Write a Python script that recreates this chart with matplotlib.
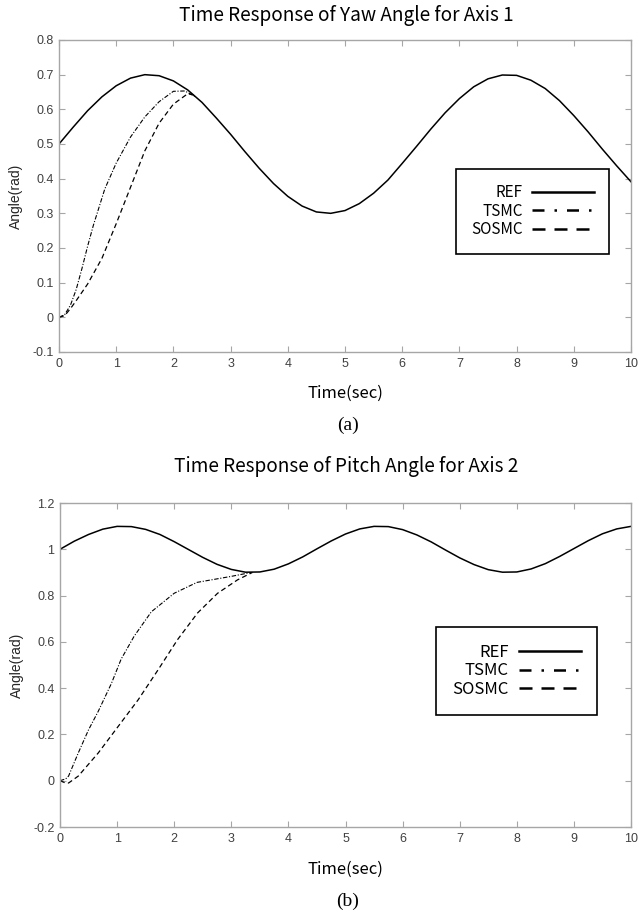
import numpy as np
import matplotlib
matplotlib.use("Agg")
import matplotlib.pyplot as plt
from matplotlib.lines import Line2D

# ---- datos ----
t_ref = np.arange(0, 10.01, 0.25)

yaw_ref = [0.500, 0.549, 0.596, 0.636, 0.668, 0.690, 0.700, 0.697, 0.682, 0.656,
           0.620, 0.575, 0.528, 0.478, 0.430, 0.386, 0.349, 0.321, 0.304, 0.300,
           0.308, 0.328, 0.358, 0.396, 0.444, 0.493, 0.543, 0.590, 0.631, 0.665,
           0.688, 0.699, 0.698, 0.684, 0.660, 0.625, 0.582, 0.535, 0.485, 0.437,
           0.391]

t_yaw_tsmc = [0, 0.1, 0.2, 0.3, 0.4, 0.5, 0.6, 0.8, 1.0, 1.25, 1.5, 1.75, 2.0, 2.2, 2.4]
yaw_tsmc = [0, 0.008, 0.035, 0.08, 0.14, 0.205, 0.265, 0.37, 0.445, 0.52, 0.578,
            0.622, 0.652, 0.653, 0.635]

t_yaw_sosmc = [0, 0.1, 0.2, 0.3, 0.5, 0.75, 1.0, 1.25, 1.5, 1.75, 2.0, 2.25, 2.4]
yaw_sosmc = [0, 0.005, 0.025, 0.048, 0.096, 0.17, 0.27, 0.375, 0.48, 0.56, 0.615,
             0.645, 0.64]

pitch_ref = [1.000, 1.035, 1.064, 1.087, 1.099, 1.098, 1.086, 1.064, 1.033, 0.999,
             0.965, 0.935, 0.913, 0.901, 0.902, 0.914, 0.937, 0.967, 1.002, 1.036,
             1.066, 1.088, 1.099, 1.098, 1.085, 1.062, 1.032, 0.997, 0.963, 0.934,
             0.912, 0.901, 0.902, 0.915, 0.938, 0.969, 1.003, 1.037, 1.067, 1.088,
             1.099]

t_pitch_tsmc = [0, 0.1, 0.15, 0.32, 0.5, 0.67, 0.9, 1.07, 1.3, 1.6, 2.0, 2.4, 3.0, 3.35]
pitch_tsmc = [0, 0.008, 0.02, 0.12, 0.22, 0.30, 0.42, 0.525, 0.625, 0.73, 0.81,
              0.857, 0.883, 0.90]

t_pitch_sosmc = [0, 0.08, 0.15, 0.32, 0.67, 1.02, 1.37, 1.72, 2.06, 2.41, 2.76, 3.11, 3.37]
pitch_sosmc = [0, -0.008, -0.01, 0.02, 0.12, 0.235, 0.35, 0.48, 0.61, 0.725, 0.81,
               0.868, 0.90]

x_ticks = list(range(0, 11))
yaw_ticks = [-0.1, 0, 0.1, 0.2, 0.3, 0.4, 0.5, 0.6, 0.7, 0.8]
yaw_tick_labels = ['-0.1', '0', '0.1', '0.2', '0.3', '0.4', '0.5', '0.6', '0.7', '0.8']
pitch_ticks = [-0.2, 0, 0.2, 0.4, 0.6, 0.8, 1.0, 1.2]
pitch_tick_labels = ['-0.2', '0', '0.2', '0.4', '0.6', '0.8', '1', '1.2']
series_names = ['REF', 'TSMC', 'SOSMC']

# ---- estilos ----
gris = '#a6a6a6'
texto_gris = '#404040'
fuente_k = ['Noto Sans CJK KR', 'DejaVu Sans']
fuente_ejes = ['Liberation Sans', 'DejaVu Sans']

fig = plt.figure(figsize=(6.39, 9.15), dpi=100)
ax1 = fig.add_axes([59/639, 1 - 352/915, 572/639, 312/915])
ax2 = fig.add_axes([60/639, 1 - 827/915, 571/639, 324/915])


def decorar(ax, yticks, ylabels, ylim):
    ax.set_xlim(0, 10)
    ax.set_ylim(*ylim)
    ax.set_xticks(x_ticks)
    ax.set_yticks(yticks)
    ax.set_yticklabels(ylabels)
    for s in ax.spines.values():
        s.set_color(gris)
        s.set_linewidth(1.0)
    ax.tick_params(direction='in', top=True, right=True, length=4, width=0.8,
                   color=gris, labelcolor=texto_gris, labelsize=9, pad=4)
    for lab in ax.get_xticklabels() + ax.get_yticklabels():
        lab.set_family(fuente_ejes)
    ax.set_ylabel('Angle(rad)', family=fuente_ejes, fontsize=10, color='#262626')
    ax.yaxis.set_label_coords(-0.063, 0.5)


def leyenda(ax, anchor, fs):
    h = [Line2D([], [], color='black', lw=1.8, linestyle='-'),
         Line2D([], [], color='black', lw=1.8, dashes=(4.8, 4, 1, 4)),
         Line2D([], [], color='black', lw=1.8, dashes=(5.2, 3.6))]
    leg = ax.legend(h, series_names, loc='upper left', bbox_to_anchor=anchor,
                    borderaxespad=0, markerfirst=False, handlelength=62 / (fs * 100 / 72),
                    handletextpad=0.6, labelspacing=0.1, borderpad=1.0,
                    fancybox=False, framealpha=1, edgecolor='black',
                    prop={'family': fuente_k, 'size': fs})
    leg.get_frame().set_linewidth(1.2)


# ---- grafica (a) ----
ax1.plot(t_ref, yaw_ref, color='black', lw=1.1)
ax1.plot(t_yaw_tsmc, yaw_tsmc, color='black', lw=0.8, dashes=(4, 1.5, 1, 1.5))
ax1.plot(t_yaw_sosmc, yaw_sosmc, color='black', lw=0.9, dashes=(4, 2.6))
decorar(ax1, yaw_ticks, yaw_tick_labels, (-0.1, 0.8))
leyenda(ax1, (0.694, 0.5865), 11)

# ---- grafica (b) ----
ax2.plot(t_ref, pitch_ref, color='black', lw=1.1)
ax2.plot(t_pitch_tsmc, pitch_tsmc, color='black', lw=0.8, dashes=(4, 1.5, 1, 1.5))
ax2.plot(t_pitch_sosmc, pitch_sosmc, color='black', lw=0.9, dashes=(4, 2.6))
decorar(ax2, pitch_ticks, pitch_tick_labels, (-0.2, 1.2))
leyenda(ax2, (0.658, 0.617), 12)

# ---- textos ----
fig.text(346/639, 1 - 16/915, 'Time Response of Yaw Angle for Axis 1',
         ha='center', va='center', family=fuente_k, fontsize=13.7)
fig.text(345/639, 1 - 393/915, 'Time(sec)', ha='center', va='center',
         family=fuente_k, fontsize=12)
fig.text(348/639, 1 - 425/915, '(a)', ha='center', va='center',
         family=['Liberation Serif', 'DejaVu Serif'], fontsize=14)

fig.text(346/639, 1 - 467/915, 'Time Response of Pitch Angle for Axis 2',
         ha='center', va='center', family=fuente_k, fontsize=13.7)
fig.text(345/639, 1 - 869/915, 'Time(sec)', ha='center', va='center',
         family=fuente_k, fontsize=12)
fig.text(348/639, 1 - 901/915, '(b)', ha='center', va='center',
         family=['Liberation Serif', 'DejaVu Serif'], fontsize=14)

plt.savefig('out.png', dpi=100)
